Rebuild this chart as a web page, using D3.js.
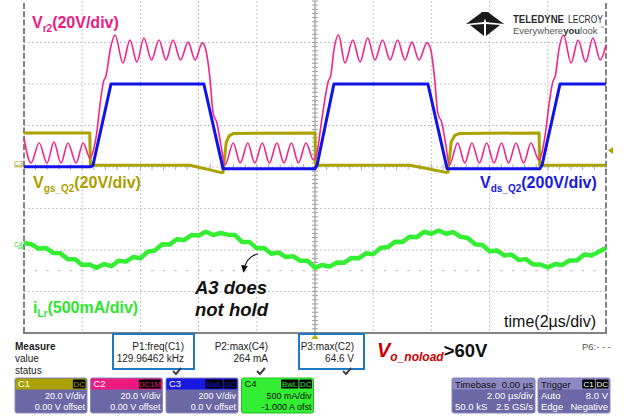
<!DOCTYPE html>
<html>
<head>
<meta charset="utf-8">
<script src="https://cdn.jsdelivr.net/npm/d3@7/dist/d3.min.js"></script>
<style>
  body { margin: 0; background: #fff; }
  svg { display: block; font-family: "Liberation Sans", Arial, sans-serif; }
</style>
</head>
<body>
<div id="scope"></div>
<script>
(function () {
    'use strict';

    // time axis in µs (2 µs/div, trigger at centre), vertical in divisions
    const timeTicks = [-10, -8, -6, -4, -2, 0, 2, 4, 6, 8, 10];
    const divTicks = [-4, -3, -2, -1, 0, 1, 2, 3, 4];

    // C1 : Vgs_Q2 in volts
    const c1Vgs = [
        [-10, 16.4], [-7.74, 16.4], [-7.72, 0.8], [-4.30, 0.8], [-3.78, -0.8], [-3.26, -2.6],
        [-3.16, -2.6], [-3.05, 12], [-2.95, 15.0], [-2.80, 16.2], [0.00, 16.4], [0.02, 0.8],
        [3.26, 0.8], [3.88, -0.8], [4.50, -2.6], [4.57, -2.4], [4.68, 12], [4.80, 15.2],
        [4.98, 16.2], [7.70, 16.4], [7.72, 0.8], [10, 0.8]
    ];

    // C2 : Vr2 in volts
    const c2Vr2 = [
        [-10.00, 13.9], [-9.76, 1.9], [-9.48, 11.6], [-9.21, 1.9], [-8.97, 12.0], [-8.73, 1.9],
        [-8.49, 11.6], [-8.21, 1.9], [-7.97, 11.6], [-7.73, 4.3],
        [-7.60, 9.0], [-7.50, 16.4], [-7.39, 29.9], [-7.27, 41.0], [-7.18, 44.0], [-7.04, 56.4], [-6.87, 63.6],
        [-6.60, 50.1], [-6.36, 61.2], [-6.12, 50.6], [-5.88, 62.2], [-5.62, 51.6], [-5.36, 61.2],
        [-5.12, 51.6], [-4.88, 61.2], [-4.62, 51.6], [-4.36, 60.2], [-4.12, 51.6], [-3.87, 59.8],
        [-3.75, 56.4], [-3.62, 44.0], [-3.50, 26.0], [-3.37, 21.2], [-3.25, 12.0], [-3.09, 1.0],
        [-2.81, 11.6], [-2.57, 1.9], [-2.31, 11.6], [-2.07, 1.9], [-1.81, 11.6], [-1.57, 1.9],
        [-1.31, 11.6], [-1.07, 1.9], [-0.81, 11.6], [-0.57, 1.9], [-0.31, 11.6], [-0.05, 3.4],
        [0.10, 9.0], [0.17, 16.4], [0.31, 29.9], [0.45, 41.0], [0.54, 44.0], [0.65, 56.4], [0.81, 63.6],
        [1.03, 50.1], [1.30, 61.2], [1.55, 50.6], [1.81, 62.2], [2.06, 51.6], [2.32, 61.2],
        [2.58, 51.6], [2.84, 61.2], [3.09, 51.6], [3.33, 60.2], [3.57, 51.6], [3.85, 59.8],
        [3.98, 56.4], [4.10, 44.0], [4.22, 26.0], [4.36, 21.2], [4.48, 12.0], [4.62, 1.0],
        [4.90, 11.6], [5.15, 1.9], [5.39, 11.6], [5.65, 1.9], [5.90, 11.6], [6.15, 1.9],
        [6.41, 11.6], [6.65, 1.9], [6.91, 11.6], [7.17, 1.9], [7.42, 11.6], [7.70, 3.4],
        [7.83, 9.0], [7.92, 16.4], [8.04, 29.9], [8.17, 41.0], [8.26, 44.0], [8.38, 56.4], [8.54, 63.6],
        [8.80, 50.1], [9.04, 61.2], [9.30, 50.6], [9.55, 62.2], [9.80, 51.6], [10.00, 58.8]
    ];

    // C3 : Vds_Q2 in volts
    const c3Vds = [
        [-10, 1], [-7.70, 1], [-7.63, 8], [-7.01, 400], [-3.82, 400], [-3.48, 190], [-3.16, -8],
        [0.00, -8], [0.07, 8], [0.65, 400], [3.88, 400], [4.22, 190], [4.54, -8], [7.73, -8],
        [7.80, 8], [8.42, 400], [10, 400]
    ];

    // C4 : iLr in amps (with the switching ripple)
    const c4ILr = [
        [-10, 0.024], [-9.75, 0.01], [-9.5, -0.045], [-9.25, -0.035], [-9, -0.095], [-8.75, -0.10],
        [-8.5, -0.17], [-8.25, -0.17], [-8, -0.24], [-7.75, -0.235], [-7.5, -0.275], [-7.25, -0.23],
        [-7, -0.255], [-6.75, -0.19], [-6.5, -0.20], [-6.25, -0.145], [-6, -0.16], [-5.75, -0.08],
        [-5.5, -0.065], [-5.25, 0.01], [-5, 0.005], [-4.75, 0.07], [-4.5, 0.06], [-4.25, 0.12],
        [-4, 0.115], [-3.75, 0.16], [-3.5, 0.12], [-3.25, 0.145], [-3, 0.125], [-2.75, 0.12],
        [-2.5, 0.035], [-2.25, 0.035], [-2, -0.04], [-1.75, -0.035], [-1.5, -0.105], [-1.25, -0.09],
        [-1, -0.145], [-0.75, -0.135], [-0.5, -0.19], [-0.25, -0.19], [0, -0.275], [0.25, -0.24],
        [0.5, -0.26], [0.75, -0.21], [1, -0.215], [1.25, -0.155], [1.5, -0.16], [1.75, -0.10],
        [2, -0.11], [2.25, -0.035], [2.5, -0.025], [2.75, 0.04], [3, 0.035], [3.25, 0.10],
        [3.5, 0.095], [3.75, 0.16], [4, 0.135], [4.25, 0.175], [4.5, 0.135], [4.75, 0.155],
        [5, 0.10], [5.25, 0.085], [5.5, 0.01], [5.75, 0.0], [6, -0.075], [6.25, -0.065],
        [6.5, -0.125], [6.75, -0.115], [7, -0.18], [7.25, -0.17], [7.5, -0.235], [7.75, -0.235],
        [8, -0.27], [8.25, -0.23], [8.5, -0.24], [8.75, -0.185], [9, -0.185], [9.25, -0.115],
        [9.5, -0.125], [9.75, -0.08], [10, -0.036]
    ];

    const channels = [
        { id: "C1", color: "#aaa200", perDiv: 20, zeroDiv: 0, data: c1Vgs, width: 3 },
        { id: "C2", color: "#f2258a", perDiv: 20, zeroDiv: 0, data: c2Vr2, width: 1.6 },
        { id: "C3", color: "#1212ea", perDiv: 200, zeroDiv: 0, data: c3Vds, width: 3 },
        { id: "C4", color: "#33ee33", perDiv: 0.5, zeroDiv: -1.88, data: c4ILr, width: 4.5 }
    ];

    const traceLabels = [
        { x: 32, y: 28, color: "#ec1b80", parts: [["V", 0], ["r2", 1], ["(20V/div)", 0]] },
        { x: 33, y: 188, color: "#a9a000", parts: [["V", 0], ["gs_Q2", 1], ["(20V/div)", 0]] },
        { x: 480, y: 188, color: "#1a1ae0", parts: [["V", 0], ["ds_Q2", 1], ["(200V/div)", 0]] },
        { x: 33, y: 313, color: "#2ee62e", parts: [["i", 0], ["Lr", 1], ["(500mA/div)", 0]] }
    ];

    const measNames = ["P1:freq(C1)", "P2:max(C4)", "P3:max(C2)"];
    const measValues = ["129.96462 kHz", "264 mA", "64.6 V"];
    const measRight = [184, 268, 354];
    const measBoxed = [true, false, true];

    const chanBoxes = [
        { id: "C1", color: "#aaa200", badges: ["DC"], l1: "20.0 V/div", l2: "0.00 V offset", green: false },
        { id: "C2", color: "#ee1a80", badges: ["DC1M"], l1: "20.0 V/div", l2: "0.00 V offset", green: false },
        { id: "C3", color: "#1818e0", badges: ["BwL", "DC"], l1: "200 V/div", l2: "0.0 V offset", green: false },
        { id: "C4", color: "#33ee33", badges: ["BwL", "DC"], l1: "500 mA/div", l2: "-1.000 A ofst", green: true }
    ];

    const W = 626, H = 417;
    const svg = d3.select("#scope").append("svg")
        .attr("width", W).attr("height", H)
        .attr("viewBox", `0 0 ${W} ${H}`);

    const x = d3.scaleLinear().domain([-10, 10]).range([24, 606]);
    const y = d3.scaleLinear().domain([-4, 4]).range([333, 1]);

    // ---- graticule
    const grid = svg.append("g");
    grid.selectAll("line.v").data(timeTicks.filter(t => t > -10 && t < 10 && t !== 0)).enter()
        .append("line")
        .attr("x1", d => x(d)).attr("x2", d => x(d))
        .attr("y1", y(4)).attr("y2", y(-4))
        .attr("stroke", "#c4c4c4").attr("stroke-dasharray", "2,2");
    grid.selectAll("line.h").data(divTicks.filter(d => d > -4 && d < 4)).enter()
        .append("line")
        .attr("x1", x(-10)).attr("x2", x(10))
        .attr("y1", d => y(d)).attr("y2", d => y(d))
        .attr("stroke", "#c4c4c4").attr("stroke-dasharray", "2,2");

    grid.append("line")
        .attr("x1", x(0)).attr("x2", x(0)).attr("y1", y(4)).attr("y2", y(-4))
        .attr("stroke", "#9a9a9a").attr("stroke-width", 1.2);
    grid.selectAll("line.mv").data(d3.range(-40, 41).map(i => i / 10)).enter()
        .append("line")
        .attr("x1", x(0) - 3).attr("x2", x(0) + 3)
        .attr("y1", d => y(d)).attr("y2", d => y(d))
        .attr("stroke", "#a0a0a0");
    grid.selectAll("line.mh").data(d3.range(-25, 26).map(i => i * 0.4)).enter()
        .append("line")
        .attr("x1", d => x(d)).attr("x2", d => x(d))
        .attr("y1", y(0) - 3).attr("y2", y(0) + 3)
        .attr("stroke", "#b0b0b0");
    grid.selectAll("line.mr").data(d3.range(-25, 26).map(i => i * 0.4)).enter()
        .append("line")
        .attr("x1", d => x(d) - 1).attr("x2", d => x(d) + 1.5)
        .attr("y1", y(-2.5)).attr("y2", y(-2.5))
        .attr("stroke", "#b8b8b8");

    [x(-10), x(10)].forEach(px => {
        grid.append("line")
            .attr("x1", px).attr("x2", px).attr("y1", y(4) + 2).attr("y2", y(-4))
            .attr("stroke", "#5a5a5a").attr("stroke-width", 1.5)
            .attr("stroke-dasharray", "6,2.3");
    });
    grid.append("line")
        .attr("x1", x(-10) - 1).attr("x2", x(10) + 1).attr("y1", y(-4)).attr("y2", y(-4))
        .attr("stroke", "#5a5a5a").attr("stroke-width", 1.5);

    // ---- traces
    const traces = svg.append("g");
    channels.forEach(ch => {
        const line = d3.line()
            .x(d => x(d[0]))
            .y(d => y(d[1] / ch.perDiv + ch.zeroDiv))
            .curve(ch.id === "C2" ? d3.curveMonotoneX : d3.curveLinear);
        traces.append("path")
            .datum(ch.data)
            .attr("d", line)
            .attr("fill", "none")
            .attr("stroke", ch.color)
            .attr("stroke-width", ch.width)
            .attr("stroke-linejoin", "round");
    });

    // channel markers
    svg.append("text").attr("x", 14).attr("y", y(0.1) + 3)
        .attr("font-size", 7).attr("fill", "#9c9630").text("C3");
    svg.append("line").attr("x1", 14).attr("x2", 24).attr("y1", y(0.1) + 4).attr("y2", y(0.1) + 4)
        .attr("stroke", "#b0a820").attr("stroke-width", 1);
    svg.append("text").attr("x", 14).attr("y", y(-1.88) + 2)
        .attr("font-size", 7).attr("fill", "#2ed82e").text("C4");
    svg.append("line").attr("x1", 18).attr("x2", 24).attr("y1", y(-1.88) + 3).attr("y2", y(-1.88) + 3)
        .attr("stroke", "#33ee33").attr("stroke-width", 1.2);
    // trigger level (8 V on C1) and trigger position
    const trgY = y(8 / 20);
    svg.append("path")
        .attr("d", `M${x(10) + 2},${trgY} l5,-3.5 l0,7 z`)
        .attr("fill", "#aaa200");
    svg.append("path")
        .attr("d", `M${x(0)},${y(-4) + 1} l-3.5,5 l7,0 z`)
        .attr("fill", "#b8b000");

    // ---- trace labels
    traceLabels.forEach(lb => {
        const t = svg.append("text")
            .attr("x", lb.x).attr("y", lb.y)
            .attr("fill", lb.color)
            .attr("font-weight", "bold");
        let prevSub = 0;
        lb.parts.forEach(p => {
            const dy = p[1] === prevSub ? 0 : (p[1] ? 4 : -4);
            t.append("tspan")
                .attr("dy", dy)
                .attr("font-size", p[1] ? 10 : 16)
                .text(p[0]);
            prevSub = p[1];
        });
    });

    // ---- annotation
    const note = svg.append("text")
        .attr("font-size", 18.5).attr("font-weight", "bold").attr("font-style", "italic")
        .attr("fill", "#111");
    note.append("tspan").attr("x", 195).attr("y", 294).text("A3 does");
    note.append("tspan").attr("x", 195).attr("y", 316).text("not hold");

    svg.append("defs").append("marker")
        .attr("id", "arr").attr("viewBox", "0 0 10 10")
        .attr("refX", 8).attr("refY", 5)
        .attr("markerWidth", 7).attr("markerHeight", 7)
        .attr("orient", "auto")
        .append("path").attr("d", "M0,1 L9,5 L0,9 z").attr("fill", "#111");
    svg.append("path")
        .attr("d", "M258,254 Q246,256 243.5,272")
        .attr("fill", "none").attr("stroke", "#111").attr("stroke-width", 1.2)
        .attr("marker-end", "url(#arr)");

    svg.append("text")
        .attr("x", 596).attr("y", 327)
        .attr("text-anchor", "end")
        .attr("font-size", 16).attr("fill", "#111")
        .text("time(2µs/div)");

    // ---- logo
    const logo = svg.append("g").attr("fill", "#1a1a1a");
    [
        "M466,24 L481,13 L484,13 L484,22 Z",
        "M504,24 L489,13 L486,13 L486,22 Z",
        "M470,25 L484,24 L484,36 Z",
        "M500,25 L486,24 L486,36 Z",
        "M481,12 L485,21 L489,12 Z"
    ].forEach(d => logo.append("path").attr("d", d));
    svg.append("text")
        .attr("x", 513).attr("y", 22.5)
        .attr("font-size", 10.5).attr("font-weight", "bold").attr("fill", "#2a2a2a")
        .attr("textLength", 51).attr("lengthAdjust", "spacingAndGlyphs")
        .text("TELEDYNE");
    svg.append("text")
        .attr("x", 568).attr("y", 22.5)
        .attr("font-size", 10.5).attr("fill", "#2a2a2a")
        .attr("textLength", 35).attr("lengthAdjust", "spacingAndGlyphs")
        .text("LECROY");
    svg.append("text")
        .attr("x", 513).attr("y", 34)
        .attr("font-size", 9.5).attr("fill", "#555")
        .html('Everywhere<tspan font-weight="bold" fill="#333">you</tspan>look');
    svg.append("text").attr("x", 600).attr("y", 29).attr("font-size", 4).attr("fill", "#555").text("™");

    // ---- measurement area
    const meas = svg.append("g").attr("font-size", 10).attr("fill", "#222");
    meas.append("text").attr("x", 15).attr("y", 350).attr("font-weight", "bold").text("Measure");
    meas.append("text").attr("x", 15).attr("y", 362).text("value");
    meas.append("text").attr("x", 15).attr("y", 374).text("status");

    measNames.forEach((n, i) => {
        if (measBoxed[i]) {
            const bx = i === 0 ? 113 : 299;
            const bw = i === 0 ? 81 : 65;
            meas.append("rect")
                .attr("x", bx).attr("y", 334).attr("width", bw).attr("height", 35)
                .attr("fill", "none").attr("stroke", "#1f78c4").attr("stroke-width", 2);
        }
        meas.append("text").attr("x", measRight[i]).attr("y", 350)
            .attr("text-anchor", "end").text(n);
        meas.append("text").attr("x", measRight[i]).attr("y", 362)
            .attr("text-anchor", "end").text(measValues[i]);
        meas.append("path")
            .attr("d", `M${measRight[i] - 11},371 l3,3 l5,-6`)
            .attr("fill", "none").attr("stroke", "#444").attr("stroke-width", 2);
    });
    meas.append("text").attr("x", 582).attr("y", 350).attr("font-size", 9.5).attr("fill", "#555").text("P6:- - -");

    const vo = svg.append("text").attr("x", 377).attr("y", 357)
        .attr("font-weight", "bold");
    vo.append("tspan").attr("font-size", 20).attr("font-style", "italic").attr("fill", "#cc0000").text("V");
    vo.append("tspan").attr("font-size", 12).attr("font-style", "italic").attr("fill", "#cc0000")
        .attr("dy", 4).text("o_noload");
    vo.append("tspan").attr("font-size", 18.5).attr("fill", "#111").attr("dy", -4).text(">60V");

    // ---- channel boxes
    const boxW = 72, boxY = 378, boxH = 35;
    const addBadges = (g, right, list, color) => {
        list.slice().reverse().forEach(b => {
            const bw = b.length * 4.8 + 3;
            g.append("rect").attr("x", right - bw).attr("y", boxY + 1.5).attr("width", bw).attr("height", 9)
                .attr("fill", "#000").attr("rx", 1);
            g.append("text").attr("x", right - bw / 2).attr("y", boxY + 9.3)
                .attr("text-anchor", "middle").attr("font-size", 8)
                .attr("fill", color).text(b);
            right -= bw + 1;
        });
    };
    chanBoxes.forEach((c, i) => {
        const bx = 15 + i * 75.5;
        const g = svg.append("g").attr("font-size", 9);
        g.append("rect").attr("x", bx).attr("y", boxY).attr("width", boxW).attr("height", boxH)
            .attr("rx", 2)
            .attr("fill", c.green ? "#33ee33" : "#6c68a6")
            .attr("stroke", c.green ? "#22b822" : "#8b87bf");
        g.append("rect").attr("x", bx + 0.5).attr("y", boxY + 0.5).attr("width", boxW - 1).attr("height", 11)
            .attr("fill", c.color);
        g.append("text").attr("x", bx + 3).attr("y", boxY + 9.3).attr("font-size", 9.5)
            .attr("fill", c.green ? "#111" : "#fff").text(c.id);
        addBadges(g, bx + boxW - 1.5, c.badges, c.color);
        g.append("text").attr("x", bx + boxW - 2).attr("y", boxY + 21).attr("text-anchor", "end")
            .attr("fill", c.green ? "#111" : "#fff").text(c.l1);
        g.append("text").attr("x", bx + boxW - 2).attr("y", boxY + 32).attr("text-anchor", "end")
            .attr("fill", c.green ? "#111" : "#fff").text(c.l2);
    });

    // timebase & trigger
    const infoBoxes = [
        { x: 452, w: 83, title: "Timebase", tr: "0.00 µs", r1: ["", "2.00 µs/div"], r2: ["50.0 kS", "2.5 GS/s"], badges: [] },
        { x: 538, w: 72, title: "Trigger", tr: "", r1: ["Auto", "8.0 V"], r2: ["Edge", "Negative"], badges: ["C1", "DC"] }
    ];
    infoBoxes.forEach(b => {
        const g = svg.append("g").attr("font-size", 9.5);
        g.append("rect").attr("x", b.x).attr("y", boxY).attr("width", b.w).attr("height", boxH)
            .attr("rx", 2).attr("fill", "#6c68a6").attr("stroke", "#8b87bf");
        g.append("rect").attr("x", b.x + 0.5).attr("y", boxY + 0.5).attr("width", b.w - 1).attr("height", 11)
            .attr("fill", "#8d89c2");
        g.append("text").attr("x", b.x + 3).attr("y", boxY + 9.5).attr("fill", "#111").text(b.title);
        if (b.tr) g.append("text").attr("x", b.x + b.w - 2).attr("y", boxY + 9.5)
            .attr("text-anchor", "end").attr("fill", "#111").text(b.tr);
        addBadges(g, b.x + b.w - 1.5, b.badges, "#fff");
        [b.r1, b.r2].forEach((r, k) => {
            const yy = boxY + 21 + k * 11;
            if (r[0]) g.append("text").attr("x", b.x + 3).attr("y", yy).attr("fill", "#fff").text(r[0]);
            g.append("text").attr("x", b.x + b.w - 2).attr("y", yy).attr("text-anchor", "end")
                .attr("fill", "#fff").text(r[1]);
        });
    });
})();
</script>
</body>
</html>
